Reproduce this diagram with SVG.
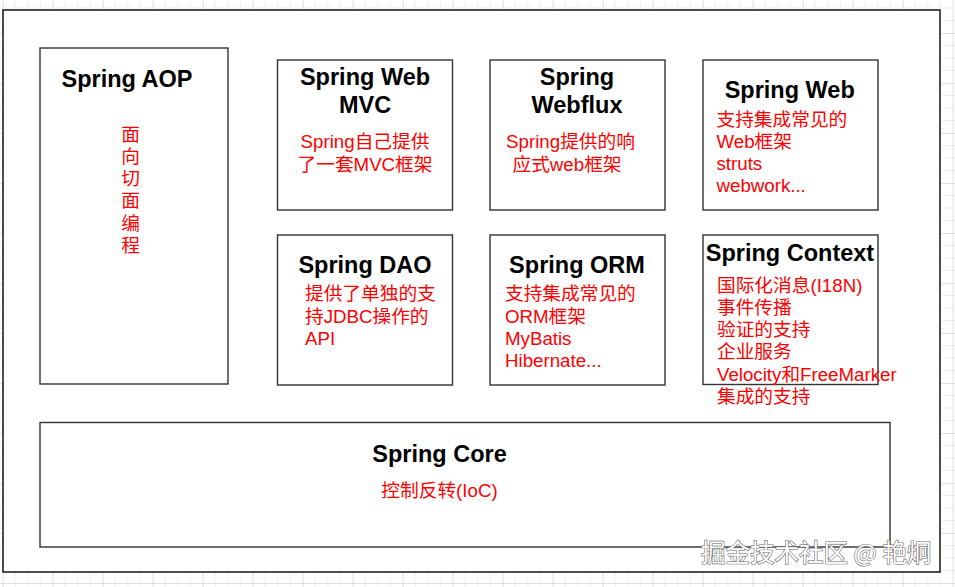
<svg xmlns="http://www.w3.org/2000/svg" width="955" height="587" viewBox="0 0 955 587">
<defs>
<pattern id="grid" patternUnits="userSpaceOnUse" x="2.7" y="-17" width="50" height="50">
<path d="M12.5 0V50M25 0V50M37.5 0V50M0 12.5H50M0 25H50M0 37.5H50" stroke="#efefef" stroke-width="1" fill="none"/>
<path d="M0.5 0V50M0 0.5H50" stroke="#dedede" stroke-width="1" fill="none"/>
</pattern>
<style>
.box{fill:#fff;stroke:#333;stroke-width:1.4}
.t{font-family:'Liberation Sans','Noto Sans CJK SC',sans-serif;font-weight:bold;font-size:23.5px;fill:#000;text-anchor:middle}
.r{font-family:'Liberation Sans','Noto Sans CJK SC',sans-serif;font-size:18.7px;fill:#ff0000}
.c{text-anchor:middle}
.wm{font-family:'Noto Sans CJK SC','Liberation Sans',sans-serif;font-size:24.5px;fill:#fff;stroke:#666;stroke-width:1.2;paint-order:stroke}
</style>
</defs>
<rect x="0" y="0" width="955" height="587" fill="#fff"/>
<rect x="0" y="0" width="955" height="587" fill="url(#grid)"/>
<g id="container">
<rect x="3" y="10" width="937" height="562" fill="#fff" stroke="#222" stroke-width="1.6"/>
</g>
<g id="connectors"></g>
<g id="aop">
<rect class="box" x="40" y="48" width="188" height="336"/>
<text class="t" x="127" y="87">Spring AOP</text>
<text class="r c" x="130.5"><tspan x="130.5" y="140.5">面</tspan><tspan x="130.5" y="162.8">向</tspan><tspan x="130.5" y="185">切</tspan><tspan x="130.5" y="207.3">面</tspan><tspan x="130.5" y="229.6">编</tspan><tspan x="130.5" y="252">程</tspan></text>
</g>
<g id="webmvc">
<rect class="box" x="277.5" y="60" width="175" height="150"/>
<text class="t"><tspan x="365" y="85">Spring Web</tspan><tspan x="365" y="112.5">MVC</tspan></text>
<text class="r c"><tspan x="365" y="148">Spring自己提供</tspan><tspan x="365" y="170.5">了一套MVC框架</tspan></text>
</g>
<g id="webflux">
<rect class="box" x="490" y="60" width="175" height="150"/>
<text class="t"><tspan x="577" y="85">Spring</tspan><tspan x="577" y="112.5">Webflux</tspan></text>
<text class="r c"><tspan x="570.5" y="148">Spring提供的响</tspan><tspan x="567" y="170.5">应式web框架</tspan></text>
</g>
<g id="web">
<rect class="box" x="703" y="60" width="175" height="150"/>
<text class="t" x="789.7" y="98">Spring Web</text>
<text class="r"><tspan x="716.5" y="126">支持集成常见的</tspan><tspan x="716.5" y="148">Web框架</tspan><tspan x="716.5" y="170">struts</tspan><tspan x="716.5" y="192">webwork...</tspan></text>
</g>
<g id="dao">
<rect class="box" x="277.5" y="235" width="175" height="150"/>
<text class="t" x="365" y="273">Spring DAO</text>
<text class="r"><tspan x="305" y="300">提供了单独的支</tspan><tspan x="305" y="322.5">持JDBC操作的</tspan><tspan x="305" y="344.5">API</tspan></text>
</g>
<g id="orm">
<rect class="box" x="490" y="235" width="175" height="150"/>
<text class="t" x="577" y="273">Spring ORM</text>
<text class="r"><tspan x="505" y="300">支持集成常见的</tspan><tspan x="505" y="322.5">ORM框架</tspan><tspan x="505" y="344.8">MyBatis</tspan><tspan x="505" y="367">Hibernate...</tspan></text>
</g>
<g id="context">
<rect class="box" x="703" y="235" width="175" height="149.5"/>
<text class="t" x="790" y="261">Spring Context</text>
<text class="r"><tspan x="717" y="291.5">国际化消息(I18N)</tspan><tspan x="717" y="313.8">事件传播</tspan><tspan x="717" y="336.1">验证的支持</tspan><tspan x="717" y="358.4">企业服务</tspan><tspan x="717" y="380.7">Velocity和FreeMarker</tspan><tspan x="717" y="403">集成的支持</tspan></text>
</g>
<g id="core">
<rect class="box" x="40" y="422.5" width="850" height="124.5"/>
<text class="t" x="439.5" y="462">Spring Core</text>
<text class="r c" x="439.5" y="497">控制反转(IoC)</text>
</g>
<text class="wm" x="701" y="562">掘金技术社区 @ 艳炯</text>
</svg>
